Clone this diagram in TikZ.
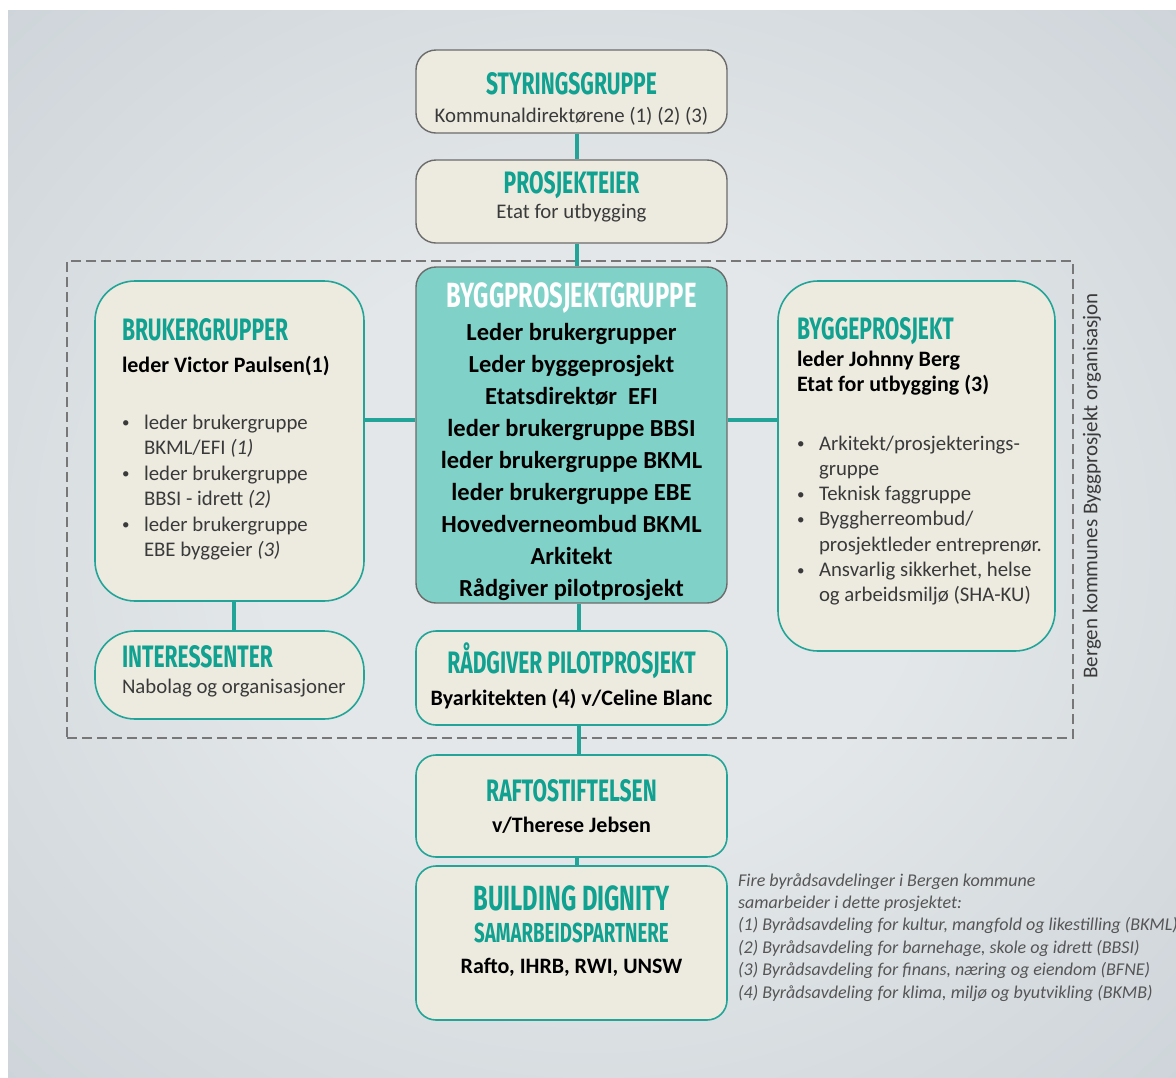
\documentclass[tikz,border=0pt]{standalone}
\usepackage{fontspec}
\setmainfont{Carlito}
\newfontfamily\headfam[FakeStretch=0.68]{Fira Sans}
\usetikzlibrary{positioning}

\definecolor{tealhead}{HTML}{10A191}
\definecolor{tealline}{HTML}{22A598}
\definecolor{tealfill}{HTML}{80D2C9}
\definecolor{beige}{HTML}{EDEBE0}
\definecolor{boxgray}{HTML}{6B6B6B}
\definecolor{dashgray}{HTML}{777777}
\definecolor{bodytxt}{HTML}{3A3A3A}
\definecolor{notegray}{HTML}{555555}
\definecolor{bglight}{HTML}{E3E7E9}
\definecolor{bgedge}{HTML}{C0C8CF}

\pgfdeclareradialshading{bgglow}{\pgfpoint{0bp}{0bp}}{color(0bp)=(bglight); color(14bp)=(bglight); color(50bp)=(bgedge)}

\newcommand\headtxt[2][31]{{\leavevmode\headfam\bfseries\fontsize{#1}{#1}\selectfont\color{tealhead}#2}}
\newcommand\bodyfont{\fontsize{20.8}{25.5}\selectfont}
\newcommand\blt{\makebox[22pt][l]{\raisebox{1.5pt}{\fontsize{15}{15}\selectfont\textbullet}}}
\newcommand\ind{\hspace*{22pt}}
\newcommand\lead[1]{{\fontsize{22}{25.5}\selectfont\bfseries\color{black}#1}}

\begin{document}
\begin{tikzpicture}[
  x=1pt, y=-1pt,
  box/.style={draw=boxgray, line width=1.4pt, fill=beige, rounded corners=20pt, inner sep=0pt, minimum width=311pt, font=\bodyfont, text=bodytxt},
  tealbox/.style={box, draw=tealline, line width=1.6pt},
  sidebox/.style={tealbox, rounded corners=40pt},
  edge/.style={draw=tealline, line width=4pt},
  frame/.style={draw=dashgray, line width=2.5pt, dash pattern=on 10pt off 5pt, inner sep=0pt}
]
\useasboundingbox (0,0) rectangle (1176,1077);
\fill[white] (0,0) rectangle (1176,1077);
\shade[shading=bgglow] (8,10) rectangle (1176,1077);

% dashed frame round the project organisation
\node[frame, minimum width=1006pt, minimum height=477pt] (org) at (570,499.5) {};
\node[rotate=90, font=\fontsize{21}{24}\selectfont, text=bodytxt] (orglbl) at (1092,486) {Bergen kommunes Byggprosjekt organisasjon};

% main column
\node[box, text height=44pt, text depth=39pt] (styr) at (571.5,91.5) {\begin{minipage}[t]{311pt}\centering
\headtxt{STYRINGSGRUPPE}\\[2.5pt]
Kommunaldirektørene (1) (2) (3)
\end{minipage}};

\node[box, text height=33pt, text depth=50pt] (prosj) at (571.5,201.5) {\begin{minipage}[t]{311pt}\centering
\headtxt{PROSJEKTEIER}\\[-0.5pt]
Etat for utbygging
\end{minipage}};

\node[box, fill=tealfill, text height=40pt, text depth=296pt, font=\fontsize{24.5}{32}\selectfont\bfseries, text=black] (byggpg) at (571.5,435) {\begin{minipage}[t]{311pt}\centering
\headtxt[35]{\color{white}BYGGPROSJEKTGRUPPE}\\[1pt]
Leder brukergrupper\\
Leder byggeprosjekt\\
Etatsdirektør~ EFI\\
leder brukergruppe BBSI\\
leder brukergruppe BKML\\
leder brukergruppe EBE\\
Hovedverneombud BKML\\
Arkitekt\\
Rådgiver pilotprosjekt
\end{minipage}};

\node[tealbox, text height=42pt, text depth=52pt] (radg) at (571.5,678) {\begin{minipage}[t]{311pt}\centering
\headtxt{RÅDGIVER PILOTPROSJEKT}\\[6.5pt]
\lead{Byarkitekten (4) v/Celine Blanc}
\end{minipage}};

\node[tealbox, text height=46pt, text depth=56pt] (rafto) at (571.5,806) {\begin{minipage}[t]{311pt}\centering
\headtxt{RAFTOSTIFTELSEN}\\[5.5pt]
\lead{v/Therese Jebsen}
\end{minipage}};

\node[tealbox, text height=44pt, text depth=110pt] (bdig) at (571.5,943) {\begin{minipage}[t]{311pt}\centering
\headtxt[35]{BUILDING DIGNITY}\\[6.5pt]
\headtxt[27.5]{SAMARBEIDSPARTNERE}\\[5.5pt]
\lead{Rafto, IHRB, RWI, UNSW}
\end{minipage}};

% side boxes
\node[sidebox, minimum width=269pt, text height=59pt, text depth=261pt] (bruker) at (229.5,441) {\begin{minipage}[t]{269pt}\raggedright\leftskip=27pt
\headtxt{BRUKERGRUPPER}\\[6.5pt]
\lead{leder Victor Paulsen(1)}\\[31.5pt]
\blt leder brukergruppe\\
\ind BKML/EFI \textit{(1)}\\
\blt leder brukergruppe\\
\ind BBSI - idrett \textit{(2)}\\
\blt leder brukergruppe\\
\ind EBE byggeier \textit{(3)}
\end{minipage}};

\node[sidebox, minimum width=269pt, text height=36pt, text depth=52pt] (inter) at (229.5,675) {\begin{minipage}[t]{269pt}\raggedright\leftskip=27pt
\headtxt{INTERESSENTER}\\[0.5pt]
Nabolag og organisasjoner
\end{minipage}};

\node[sidebox, minimum width=277pt, text height=58pt, text depth=312pt, font=\fontsize{20.8}{25.3}\selectfont] (byggep) at (916.5,466) {\begin{minipage}[t]{277pt}\raggedright\leftskip=19pt
\headtxt{BYGGEPROSJEKT}\\[1.7pt]
\lead{leder Johnny Berg}\\[-0.3pt]
\lead{Etat for utbygging (3)}\\[33.7pt]
\blt Arkitekt/prosjekterings-\\
\ind gruppe\\
\blt Teknisk faggruppe\\
\blt Byggherreombud/\\
\ind prosjektleder entreprenør.\\
\blt Ansvarlig sikkerhet, helse\\
\ind og arbeidsmiljø (SHA-KU)
\end{minipage}};

% footnote on the departments
\node[anchor=base west, inner sep=0pt, font=\fontsize{18}{22.4}\selectfont\itshape, text=notegray] (note) at (738,886) {\begin{minipage}[t]{460pt}\raggedright
Fire byrådsavdelinger i Bergen kommune\\
samarbeider i dette prosjektet:\\
(1) Byrådsavdeling for kultur, mangfold og likestilling (BKML)\\
(2) Byrådsavdeling for barnehage, skole og idrett (BBSI)\\
(3) Byrådsavdeling for finans, næring og eiendom (BFNE)\\
(4) Byrådsavdeling for klima, miljø og byutvikling (BKMB)
\end{minipage}};

% connectors
\draw[edge] ([xshift=5pt]styr.south) -- ([xshift=5pt]prosj.north);
\draw[edge] ([xshift=5pt]prosj.south) -- ([xshift=5pt]byggpg.north);
\draw[edge] ([yshift=21pt]bruker.east) -- ([yshift=15pt]byggpg.west);
\draw[edge] ([yshift=15pt]byggpg.east) -- ([yshift=46pt]byggep.west);
\draw[edge] ([xshift=4.5pt]bruker.south) -- ([xshift=4.5pt]inter.north);
\draw[edge] ([xshift=7pt]byggpg.south) -- ([xshift=7pt]radg.north);
\draw[edge] ([xshift=7pt]radg.south) -- ([xshift=7pt]rafto.north);
\draw[edge] ([xshift=5pt]rafto.south) -- ([xshift=5pt]bdig.north);
\end{tikzpicture}
\end{document}
